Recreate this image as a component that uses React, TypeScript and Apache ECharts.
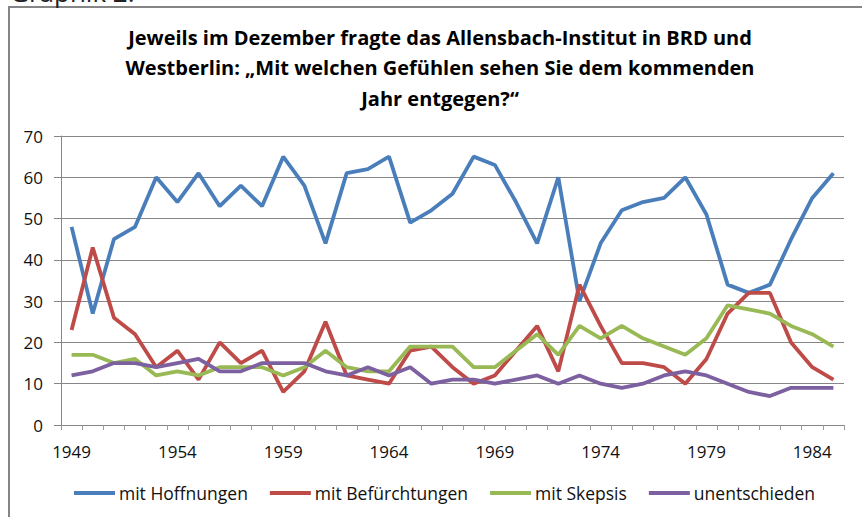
import React, { useEffect, useRef } from "react";
import * as echarts from "echarts";

const years = [
  "1949", "1950", "1951", "1952", "1953", "1954", "1955", "1956", "1957", "1958",
  "1959", "1960", "1961", "1962", "1963", "1964", "1965", "1966", "1967", "1968",
  "1969", "1970", "1971", "1972", "1973", "1974", "1975", "1976", "1977", "1978",
  "1979", "1980", "1981", "1982", "1983", "1984", "1985",
];
const hoffnungen = [48, 27, 45, 48, 60, 54, 61, 53, 58, 53, 65, 58, 44, 61, 62, 65, 49, 52, 56, 65, 63, 54, 44, 60, 30, 44, 52, 54, 55, 60, 51, 34, 32, 34, 45, 55, 61];
const befuerchtungen = [23, 43, 26, 22, 14, 18, 11, 20, 15, 18, 8, 13, 25, 12, 11, 10, 18, 19, 14, 10, 12, 18, 24, 13, 34, 24, 15, 15, 14, 10, 16, 27, 32, 32, 20, 14, 11];
const skepsis = [17, 17, 15, 16, 12, 13, 12, 14, 14, 14, 12, 14, 18, 14, 13, 13, 19, 19, 19, 14, 14, 18, 22, 17, 24, 21, 24, 21, 19, 17, 21, 29, 28, 27, 24, 22, 19];
const unentschieden = [12, 13, 15, 15, 14, 15, 16, 13, 13, 15, 15, 15, 13, 12, 14, 12, 14, 10, 11, 11, 10, 11, 12, 10, 12, 10, 9, 10, 12, 13, 12, 10, 8, 7, 9, 9, 9];

const seriesNames = ["mit Hoffnungen", "mit Befürchtungen", "mit Skepsis", "unentschieden"];
const seriesColors = ["#4A7EBB", "#BE4B48", "#98B954", "#7D60A0"];
const titleLines = [
  "Jeweils im Dezember fragte das Allensbach-Institut in BRD und",
  "Westberlin: „Mit welchen Gefühlen sehen Sie dem kommenden",
  "Jahr entgegen?“",
];
const captionText = "Graphik 2.";

const FONT = "Open Sans";

export default function App() {
  const ref = useRef<HTMLDivElement>(null);
  useEffect(() => {
    if (!ref.current) return;
    const chart = echarts.init(ref.current, null, { renderer: "svg" });
    const data = [hoffnungen, befuerchtungen, skepsis, unentschieden];
    const titleBaselines = [45, 75.5, 106];
    const titleSize = 20;
    chart.setOption({
      animation: false,
      backgroundColor: "#ffffff",
      textStyle: { fontFamily: FONT },
      graphic: [
        {
          type: "rect",
          shape: { x: 9, y: 7, width: 900, height: 600 },
          style: { fill: "none", stroke: "#858585", lineWidth: 2 },
          silent: true,
        },
        {
          type: "text",
          x: 10,
          y: -8,
          style: {
            text: captionText,
            font: `26px ${FONT}`,
            fill: "#222",
            textAlign: "left",
            textVerticalAlign: "middle",
          },
        },
        ...titleLines.map((t, i) => ({
          type: "text",
          x: 440,
          y: titleBaselines[i] - titleSize * 0.388,
          style: {
            text: t,
            font: `bold ${titleSize}px ${FONT}`,
            fill: "#000",
            textAlign: "center",
            textVerticalAlign: "middle",
          },
        })),
      ],
      legend: {
        left: 74,
        top: 484,
        padding: 0,
        icon: "rect",
        itemWidth: 41,
        itemHeight: 4,
        itemGap: 22,
        textStyle: { fontFamily: FONT, fontSize: 17.5, color: "#111", padding: [0, 0, 0, -1] },
        data: seriesNames,
      },
      grid: { left: 61, right: 18, top: 136, bottom: 92, containLabel: false },
      xAxis: {
        type: "category",
        data: years,
        boundaryGap: true,
        axisLine: { show: false },
        axisTick: { show: true, interval: 0, length: 5, lineStyle: { color: "#9a9a9a", width: 1 } },
        axisLabel: { interval: 4, margin: 18, fontFamily: FONT, fontSize: 17, color: "#111" },
        splitLine: { show: false },
      },
      yAxis: {
        type: "value",
        min: 0,
        max: 70,
        interval: 10,
        axisLine: { show: true, lineStyle: { color: "#868686", width: 1 } },
        axisTick: { show: true, length: 7, lineStyle: { color: "#868686" } },
        axisLabel: { margin: 18, fontFamily: FONT, fontSize: 17, color: "#111" },
        splitLine: { show: true, lineStyle: { color: "#868686", width: 1 } },
      },
      series: data.map((d, i) => ({
        name: seriesNames[i],
        type: "line",
        data: d,
        symbol: "none",
        smooth: false,
        lineStyle: { color: seriesColors[i], width: 3.8 },
        itemStyle: { color: seriesColors[i] },
      })),
    });
    return () => chart.dispose();
  }, []);
  return (
    <div
      ref={ref}
      style={{ position: "absolute", left: 0, top: 0, width: 862, height: 517 }}
    />
  );
}
